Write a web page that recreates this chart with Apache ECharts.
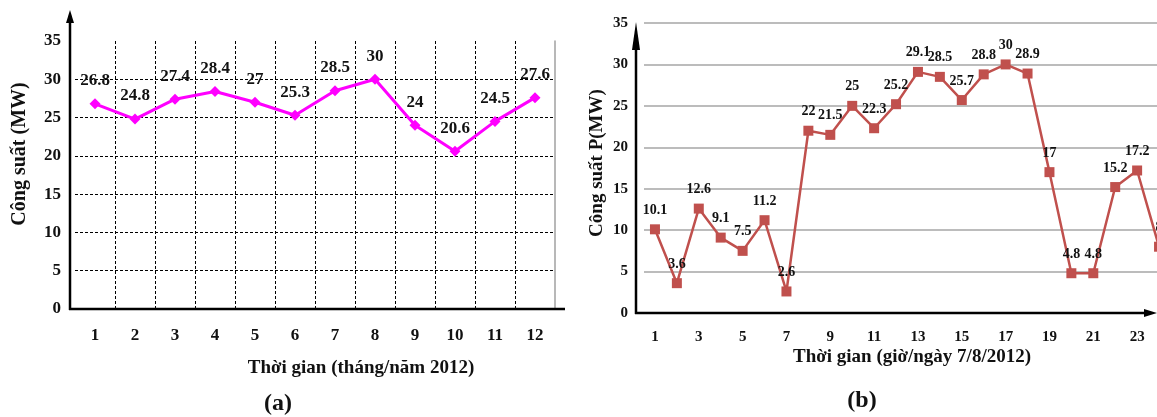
<!DOCTYPE html>
<html><head><meta charset="utf-8">
<script src="https://cdn.jsdelivr.net/npm/echarts@6/dist/echarts.min.js"></script>
<style>html,body{margin:0;padding:0;background:#fff}#c{width:1157px;height:417px}</style>
</head><body><div id="c"></div>
<script>
const monthCats = ['1','2','3','4','5','6','7','8','9','10','11','12'];
const monthPower = [26.8, 24.8, 27.4, 28.4, 27, 25.3, 28.5, 30, 24, 20.6, 24.5, 27.6];
const hourCats = ['1','2','3','4','5','6','7','8','9','10','11','12','13','14','15','16','17','18','19','20','21','22','23','24'];
const hourPower = [10.1, 3.6, 12.6, 9.1, 7.5, 11.2, 2.6, 22, 21.5, 25, 22.3, 25.2, 29.1, 28.5, 25.7, 28.8, 30, 28.9, 17, 4.8, 4.8, 15.2, 17.2, 8];
const yMin = 0, yMax = 35, yStep = 5;
const titleA = 'Thời gian (tháng/năm 2012)';
const yNameA = 'Công suất (MW)';
const titleB = 'Thời gian (giờ/ngày 7/8/2012)';
const yNameB = 'Công suất P(MW)';

const FONT = '"Liberation Serif", "Times New Roman", serif';
const txt = (size) => ({ fontFamily: FONT, fontWeight: 'bold', fontSize: size, color: '#111' });

const chart = echarts.init(document.getElementById('c'), null, { renderer: 'canvas' });
chart.setOption({
  animation: false,
  backgroundColor: '#fff',
  grid: [
    { left: 75, width: 480, top: 41, height: 268, outerBoundsMode: 'none', containLabel: false },
    { left: 644, width: 526, top: 23, height: 290, outerBoundsMode: 'none', containLabel: false }
  ],
  xAxis: [
    { type: 'category', gridIndex: 0, data: monthCats, boundaryGap: true,
      axisLine: { show: false }, axisTick: { show: false },
      axisLabel: Object.assign({ margin: 18 }, txt(17)),
      splitLine: { show: true, showMinLine: false, showMaxLine: false, lineStyle: { color: '#000', type: [3, 2], width: 1 } } },
    { type: 'category', gridIndex: 0, position: 'top', data: monthCats,
      axisLine: { show: true, lineStyle: { color: '#a0a0a0', width: 1.5 } }, axisTick: { show: false },
      axisLabel: { show: false }, splitLine: { show: false } },
    { type: 'category', gridIndex: 1, data: hourCats, boundaryGap: true,
      axisLine: { show: false }, axisTick: { show: false },
      axisLabel: Object.assign({ margin: 17, interval: 1 }, txt(15)),
      splitLine: { show: false } }
  ],
  yAxis: [
    { type: 'value', gridIndex: 0, min: yMin, max: yMax, interval: yStep, offset: 5,
      axisLine: { show: false }, axisTick: { show: false },
      axisLabel: Object.assign({ margin: 9 }, txt(17)),
      splitLine: { show: true, showMinLine: false, showMaxLine: false, lineStyle: { color: '#000', type: [3, 2], width: 1 } } },
    { type: 'value', gridIndex: 0, position: 'right', min: yMin, max: yMax, interval: yStep,
      axisLine: { show: true, lineStyle: { color: '#a0a0a0', width: 1.5 } }, axisTick: { show: false },
      axisLabel: { show: false }, splitLine: { show: false } },
    { type: 'value', gridIndex: 1, min: yMin, max: yMax, interval: yStep, offset: 8,
      axisLine: { show: false }, axisTick: { show: false },
      axisLabel: Object.assign({ margin: 8 }, txt(15)),
      splitLine: { show: true, showMinLine: false, lineStyle: { color: '#a6a6a6', width: 1.5 } } }
  ],
  series: [
    { type: 'line', xAxisIndex: 0, yAxisIndex: 0, data: monthPower,
      symbol: 'diamond', symbolSize: 11, itemStyle: { color: '#ff00ff' },
      lineStyle: { color: '#ff00ff', width: 3 },
      label: Object.assign({ show: true, position: 'top', distance: 9 }, txt(17)), z: 5 },
    { type: 'line', xAxisIndex: 2, yAxisIndex: 2, data: hourPower,
      symbol: 'rect', symbolSize: 10, itemStyle: { color: '#c0504d' },
      lineStyle: { color: '#c0504d', width: 2.5 },
      label: Object.assign({ show: true, position: 'top', distance: 7 }, txt(14)), z: 5 }
  ],
  graphic: [
    // chart (a) axes
    { type: 'line', shape: { x1: 70, y1: 310, x2: 70, y2: 18 }, style: { stroke: '#000', lineWidth: 2.5 }, z: 10 },
    { type: 'polygon', shape: { points: [[70, 10], [66, 23], [74, 23]] }, style: { fill: '#000' }, z: 10 },
    { type: 'line', shape: { x1: 69, y1: 309, x2: 565, y2: 309 }, style: { stroke: '#000', lineWidth: 2.5 }, z: 10 },
    // chart (b) axes
    { type: 'line', shape: { x1: 636, y1: 314, x2: 636, y2: 40 }, style: { stroke: '#000', lineWidth: 2.5 }, z: 10 },
    { type: 'polygon', shape: { points: [[636, 22], [632, 50], [640, 50]] }, style: { fill: '#000' }, z: 10 },
    { type: 'line', shape: { x1: 635, y1: 313, x2: 1148, y2: 313 }, style: { stroke: '#000', lineWidth: 2.5 }, z: 10 },
    { type: 'polygon', shape: { points: [[1157, 313], [1144, 309], [1144, 317]] }, style: { fill: '#000' }, z: 10 },
    // names
    { type: 'text', x: 361, y: 368, style: { text: titleA, align: 'center', verticalAlign: 'middle', font: 'bold 19px ' + FONT, fill: '#111' } },
    { type: 'text', x: 20, y: 154, rotation: Math.PI / 2, style: { text: yNameA, align: 'center', verticalAlign: 'middle', font: 'bold 20px ' + FONT, fill: '#111' } },
    { type: 'text', x: 912, y: 357, style: { text: titleB, align: 'center', verticalAlign: 'middle', font: 'bold 19px ' + FONT, fill: '#111' } },
    { type: 'text', x: 597, y: 163, rotation: Math.PI / 2, style: { text: yNameB, align: 'center', verticalAlign: 'middle', font: 'bold 19px ' + FONT, fill: '#111' } },
    { type: 'text', x: 278, y: 404, style: { text: '(a)', align: 'center', verticalAlign: 'middle', font: 'bold 24px ' + FONT, fill: '#111' } },
    { type: 'text', x: 862, y: 401, style: { text: '(b)', align: 'center', verticalAlign: 'middle', font: 'bold 24px ' + FONT, fill: '#111' } }
  ]
});
</script>
</body></html>
